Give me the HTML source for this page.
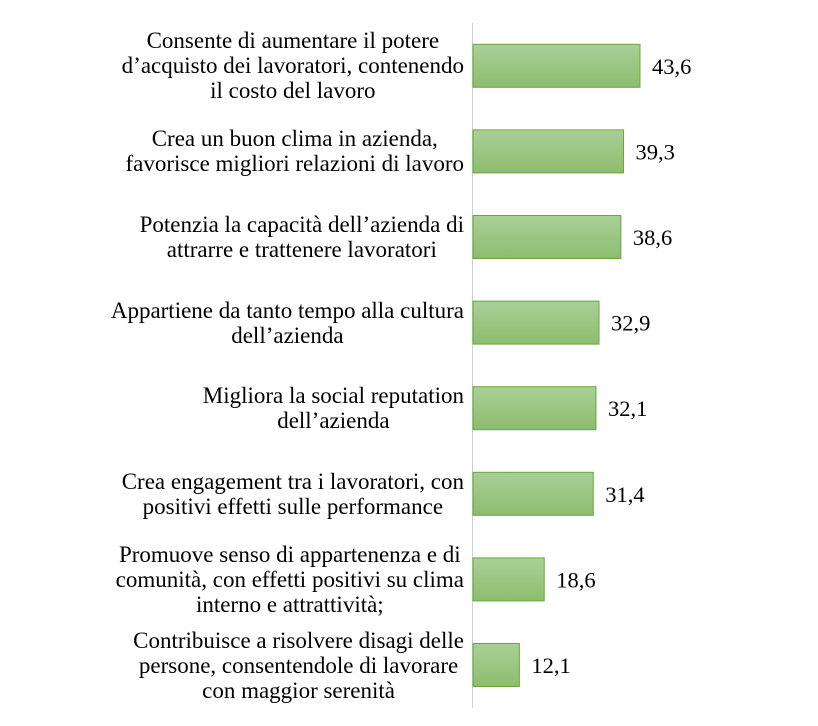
<!DOCTYPE html>
<html><head><meta charset="utf-8"><style>
html,body{margin:0;padding:0;background:#fff;}
#wrap{position:relative;width:818px;height:726px;overflow:hidden;font-family:"Liberation Serif",serif;color:#000;}
.lbl{position:absolute;right:354px;display:flex;align-items:center;justify-content:flex-end;height:86px;}
.lbl span{display:inline-block;text-align:center;font-size:23px;line-height:25px;white-space:nowrap;}
svg{position:absolute;left:0;top:0;}
</style></head><body>
<div id="wrap">
<svg id="chart" width="818" height="726">
<defs><linearGradient id="g" x1="0" y1="0" x2="0" y2="1"><stop offset="0" stop-color="#a9d097"/><stop offset="1" stop-color="#8cbd6e"/></linearGradient></defs>
</svg>
</div>
<script>
const categories=["Consente di aumentare il potere<br>d’acquisto dei lavoratori, contenendo<br>il costo del lavoro","Crea un buon clima in azienda,<br>favorisce migliori relazioni di lavoro","Potenzia la capacità dell’azienda di<br>attrarre e trattenere lavoratori","Appartiene da tanto tempo alla cultura<br>dell’azienda","Migliora la social reputation<br>dell’azienda","Crea engagement tra i lavoratori, con<br>positivi effetti sulle performance","Promuove senso di appartenenza e di<br>comunità, con effetti positivi su clima<br>interno e attrattività;","Contribuisce a risolvere disagi delle<br>persone, consentendole di lavorare<br>con maggior serenità"];
const values=[43.6,39.3,38.6,32.9,32.1,31.4,18.6,12.1];
const valueLabels=["43,6","39,3","38,6","32,9","32,1","31,4","18,6","12,1"];
const x0=473, scale=3.83, top0=23, band=85.6, barH=43;
const xS=v=>x0+v*scale;
const yS=i=>top0+i*band;
const svg=document.getElementById('chart'), wrap=document.getElementById('wrap'), NS='http://www.w3.org/2000/svg';
const ax=document.createElementNS(NS,'line');


ax.setAttribute('x1',472.5);ax.setAttribute('x2',472.5);ax.setAttribute('y1',23);ax.setAttribute('y2',708);
ax.setAttribute('stroke','#d0d0d0');ax.setAttribute('stroke-width','1');
svg.appendChild(ax);
values.forEach((v,i)=>{
  const yc=yS(i)+band/2;
  const r=document.createElementNS(NS,'rect');
  
  
  r.setAttribute('x',x0);r.setAttribute('y',yc-barH/2);
  r.setAttribute('width',xS(v)-x0);r.setAttribute('height',barH);
  r.setAttribute('fill','url(#g)');r.setAttribute('stroke','#6aa63c');r.setAttribute('stroke-width','1');
  svg.appendChild(r);
  const t=document.createElementNS(NS,'text');
  
  
  t.setAttribute('x',xS(v)+12);t.setAttribute('y',yc+8);
  t.setAttribute('font-size','22.5');t.setAttribute('font-family','Liberation Serif, serif');
  t.textContent=valueLabels[i];
  svg.appendChild(t);
  const d=document.createElement('div');
  
  
  d.className='lbl';d.style.top=(yc-43)+'px';
  d.innerHTML='<span>'+categories[i]+'</span>';
  wrap.appendChild(d);
});
</script>
</body></html>
